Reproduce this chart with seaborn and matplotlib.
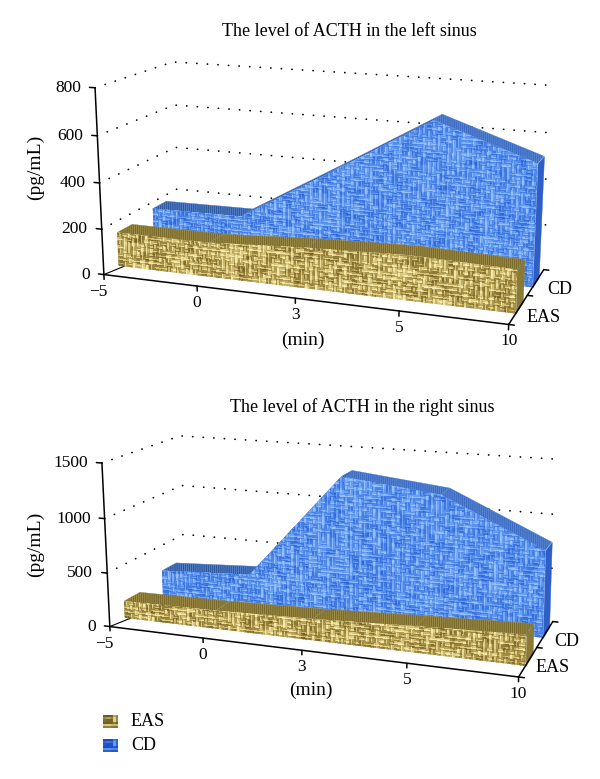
"""
plot.py - ACTH level in the left / right sinus, 3D ribbon charts
"""
import numpy as np
import matplotlib
matplotlib.use("Agg")
import matplotlib.pyplot as plt
import seaborn as sns
from matplotlib.path import Path
from matplotlib.transforms import IdentityTransform
from mpl_toolkits.mplot3d.art3d import Poly3DCollection

# ---------- data ----------
TIMES = ["\u22125", "0", "3", "5", "10"]
SERIES = ["EAS", "CD"]

LEFT_TICKS = [0, 200, 400, 600, 800]
LEFT_EAS = [150, 150, 175, 190, 180]
LEFT_CD = [170, 175, 420, 670, 525]

RIGHT_TICKS = [0, 500, 1000, 1500]
RIGHT_EAS = [160, 170, 195, 235, 270]
RIGHT_CD = [250, 300, 1310, 1210, 790]

# ---------- layout ----------
W, H = 600, 779

# (category pos, depth, value as fraction of axis top) -> reference pixel
LEFT_CAMERA = [
    ((0, 0, 0), (104, 274)), ((0, 0, 1), (95, 87)),
    ((0, 1, 1), (173, 63)), ((0, 1, 0), (178, 229)),
    ((4, 0, 0), (508, 323)), ((4, 1, 0), (544, 270)),
    ((4, 1, 1), (552, 85)), ((1, 0, 0), (197, 287)),
    ((2, 0, 0), (296, 299)), ((3, 0, 0), (399, 312)),
]
RIGHT_CAMERA = [
    ((0, 0, 0), (110, 627)), ((0, 0, 1), (102, 462)),
    ((0, 1, 1), (180, 437)), ((0, 1, 0), (185, 581)),
    ((4, 0, 0), (518, 676)), ((4, 1, 0), (553, 622)),
    ((4, 1, 1), (558, 459)), ((1, 0, 0), (203, 638)),
    ((2, 0, 0), (302, 652)), ((3, 0, 0), (407, 663)),
]

BLUE = sns.blend_palette(["#123fb0", "#2f66d8", "#5c94ee", "#94c0fb"], as_cmap=True)
GOLD = sns.blend_palette(["#544616", "#a08a42", "#dcca80", "#f4e8ac"], as_cmap=True)
BLUE_STYLE = dict(top="#2f5a9e", down="#3d6cc4", side="#2f5fc6", hatch="#5f8dd8", gamma=0.9)
GOLD_STYLE = dict(top="#7a6a2c", down="#7a6a2c", side="#8a7a34", hatch="#a8974f", gamma=1.5)

sns.set_theme(style="white")
plt.rcParams["font.family"] = ["Liberation Serif", "DejaVu Sans"]
plt.rcParams["hatch.linewidth"] = 0.5
FS = 13


def fit_camera(anchors, zmax):
    rows = []
    for (x, d, z), (px, py) in anchors:
        v = np.array([x, d, z, 1.0])
        rows.append(np.r_[v, np.zeros(4), -px / W * v])
        rows.append(np.r_[np.zeros(4), v, -(H - py) / W * v])
    cam = np.linalg.svd(np.array(rows))[2][-1].reshape(3, 4)
    cam[:2] *= W
    cam[:, 2] /= zmax
    if cam[2, 3] < 0:
        cam = -cam
    return cam


def to_px(cam, x, d, z):
    u, v, w = cam @ np.array([x, d, z, 1.0])
    return u / w, H - v / w


def weave(nrows, ncols, block=3, gamma=1.0):
    # cloth look: blocks of horizontal or vertical threads
    jj, ii = np.meshgrid(np.arange(ncols), np.arange(nrows))
    bi, bj = ii // block, jj // block
    pick = (np.sin(bi * 12.9898 + bj * 78.233) * 43758.5453) % 1
    tone = (np.sin(bi * 39.346 + bj * 11.135) * 24634.634) % 1
    horiz = (((bi + bj) % 2) == 0) ^ (pick > 0.8)
    across = np.where(horiz, ii % block, jj % block)
    thread = np.sin(np.pi * (across + 0.5) / block)
    tex = 0.72 * thread + 0.28 * tone
    tex = (2 * tex + np.roll(tex, 1, 0) + np.roll(tex, 1, 1)) / 4
    return np.clip(1.5 * tex - 0.28, 0, 1) ** gamma


def make_axes(fig, cam):
    ax = fig.add_axes([-0.15, 0, 1.3, 1], projection="3d")
    ax.set_axis_off()
    ax.patch.set_visible(False)
    ax.computed_zorder = False
    ax.set_proj_type("ortho")  # no clipping of the projected lines

    def proj():
        q = np.linalg.inv(ax.transData.get_affine().get_matrix()) @ cam
        return np.vstack([q[0], q[1], [0, 1, 0, 0], q[2]])

    ax.get_proj = proj
    return ax


def draw_ribbon(ax, cam, values, d0, d1, cmap, style, nrows, zorder):
    n = len(values)
    tops = [[(i, d0, values[i]), (i + 1, d0, values[i + 1]),
             (i + 1, d1, values[i + 1]), (i, d1, values[i])] for i in range(n - 1)]
    shades = [style["down"] if values[i + 1] < values[i] else style["top"] for i in range(n - 1)]
    ax.add_collection3d(Poly3DCollection(tops, facecolors=shades, edgecolors=style["hatch"],
                                         linewidths=0.2, hatch="||||||||", zorder=zorder))
    end = [[(n - 1, d0, 0), (n - 1, d1, 0), (n - 1, d1, values[-1]), (n - 1, d0, values[-1])]]
    ax.add_collection3d(Poly3DCollection(end, facecolors=style["side"], edgecolors=style["side"],
                                         linewidths=0.3, zorder=zorder))

    # front face: woven cloth clipped to the outline of the series
    ncols = 250
    xs = np.linspace(0, n - 1, ncols + 1)
    zs = np.linspace(0, max(values) * 1.02, nrows + 1)
    X, Z = np.meshgrid(xs, zs)
    colors = cmap(weave(nrows, ncols, gamma=style["gamma"]))
    surf = ax.plot_surface(X, np.full_like(X, d0), Z, facecolors=colors, rstride=1, cstride=1,
                           shade=False, antialiased=False, linewidth=0, zorder=zorder + 0.1)
    outline = [to_px(cam, 0, d0, 0)]
    outline += [to_px(cam, i, d0, values[i]) for i in range(n)]
    outline += [to_px(cam, n - 1, d0, 0), to_px(cam, 0, d0, 0)]
    outline = np.array(outline)
    outline[:, 1] = H - outline[:, 1]
    surf.set_clip_path(Path(outline, closed=True), IdentityTransform())


def put(fig, px, py, s, size=FS, **kw):
    fig.text(px / W, 1 - py / H, s, fontsize=size, color="black", **kw)


def draw_panel(fig, anchors, ticks, eas, cd, eas_depth, cd_depth, eas_rows, cd_rows, title, title_xy, min_xy, ylab_y, dep_off):
    zmax = ticks[-1]
    last = len(TIMES) - 1
    cam = fit_camera(anchors, zmax)
    ax = make_axes(fig, cam)
    tick_z = zmax * 0.027

    # dotted walls
    for z in ticks[1:]:
        ax.plot([0, 0, last], [0, 1, 1], [z, z, z], color="black", lw=1.25,
                ls=(0, (0.1, 6.0)), dash_capstyle="round", zorder=1)

    draw_ribbon(ax, cam, cd, *cd_depth, BLUE, BLUE_STYLE, cd_rows, 2)
    draw_ribbon(ax, cam, eas, *eas_depth, GOLD, GOLD_STYLE, eas_rows, 3)

    # axes lines
    axis_kw = dict(color="black", lw=1.1, zorder=5)
    ax.plot([0, 0], [0, 0], [0, zmax], **axis_kw)
    ax.plot([0, last], [0, 0], [0, 0], **axis_kw)
    ax.plot([last, last], [0, 1], [0, 0], **axis_kw)
    ax.plot([0, 0.2], [0, 0.62], [0, 0], color="black", lw=0.8, zorder=1)

    for z in ticks:
        ax.plot([-0.06, 0], [0, 0], [z, z], **axis_kw)
        px, py = to_px(cam, 0, 0, z)
        put(fig, px - 14, py, str(z), size=12.5, ha="right", va="center")
    for i, lab in enumerate(TIMES):
        ax.plot([i, i], [0, 0], [0, -tick_z], **axis_kw)
        px, py = to_px(cam, i, 0, 0)
        dx = -6 if i == 0 else 0
        put(fig, px + dx, py + 17, lab, size=12.5, ha="center", va="center")
    for d in [0, 0.5, 1]:
        ax.plot([last, last + 0.05], [d, d], [0, 0], **axis_kw)
    for d, name, off in zip([0.25, 0.75], SERIES, dep_off):
        px, py = to_px(cam, last, d, 0)
        put(fig, px + off[0], py + off[1], name, ha="center", va="center")

    put(fig, title_xy[0], title_xy[1], title, ha="center", va="center")
    put(fig, min_xy[0], min_xy[1], "(min)", size=14, ha="center", va="center")
    put(fig, 35, ylab_y, "(pg/mL)", size=14, ha="center", va="center", rotation=90)


fig = plt.figure(figsize=(W / 100, H / 100), dpi=100, facecolor="white")

draw_panel(fig, LEFT_CAMERA, LEFT_TICKS, LEFT_EAS, LEFT_CD, (0.18, 0.37), (0.65, 0.84), 32, 125,
           "The level of ACTH in the left sinus", (349, 31), (303, 340), 167, [(25, 8), (24, 7)])
draw_panel(fig, RIGHT_CAMERA, RIGHT_TICKS, RIGHT_EAS, RIGHT_CD, (0.18, 0.38), (0.68, 0.88), 22, 105,
           "The level of ACTH in the right sinus", (362, 407), (311, 690), 544, [(25, 6), (22, 7)])

# legend
for name, cmap, top in zip(SERIES, [GOLD, BLUE], [715, 739]):
    sw = fig.add_axes([103 / W, 1 - (top + 13) / H, 15 / W, 13 / H])
    sns.heatmap(weave(6, 6, gamma=2.0), ax=sw, cmap=cmap, cbar=False, vmin=0, vmax=1,
                xticklabels=False, yticklabels=False)
    put(fig, 131, top + 7, name, ha="left", va="center")

fig.savefig("out.png", dpi=100)
